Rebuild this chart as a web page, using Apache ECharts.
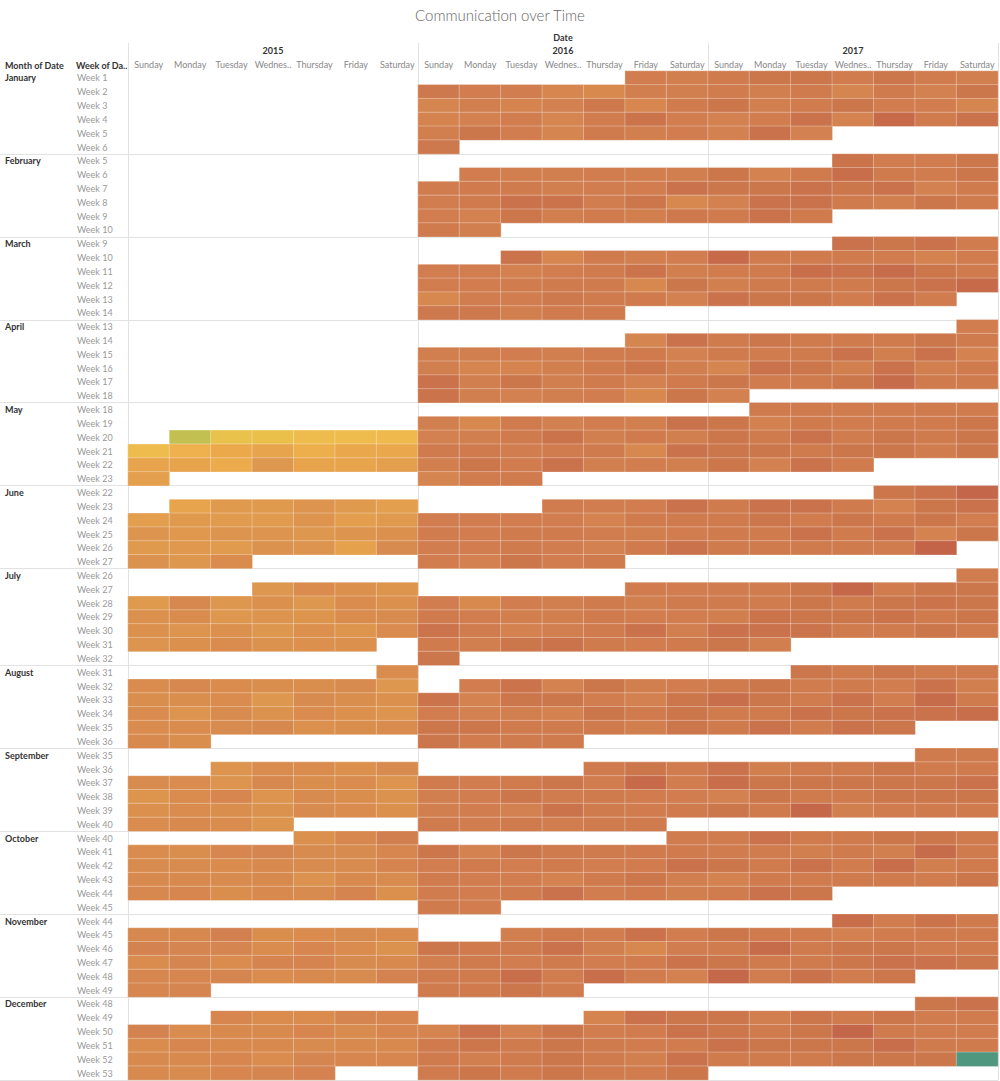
<!DOCTYPE html>
<html><head><meta charset="utf-8">
<script src="https://cdn.jsdelivr.net/npm/echarts@6/dist/echarts.min.js"></script>
<style>html,body{margin:0;padding:0;background:#fff}#c{width:1000px;height:1081px}</style>
</head><body><div id="c"></div>
<script>
const years = [2015, 2016, 2017];
const monthNames = ['January','February','March','April','May','June','July','August','September','October','November','December'];
const dayLabels = ['Sunday','Monday','Tuesday','Wednes..','Thursday','Friday','Saturday'];
const monthFirstWeek = [1,5,9,13,18,22,26,31,35,40,44,48];
const monthLastWeek  = [6,10,14,18,23,27,32,36,40,45,49,53];

// daily values (index = day of month - 1), null = no data
const v2015 = [
  [], [], [], [],
  [null,null,null,null,null,null,null,null,null,null,13,25,27,32,32,35,33,40,45,50,42,47,47,50,50,44,60,50,50,55,53],
  [50,58,58,62,58,55,55,58,57,57,62,55,58,62,59,62,62,60,62,64,58,59,57,63,62,52,67,63,60,66],
  [60,66,64,61,58,69,60,64,60,66,64,64,66,60,62,61,66,67,64,62,64,60,64,61,66,62,64,66,63,64,64],
  [66,66,69,66,65,65,67,60,65,65,66,60,67,65,64,66,62,67,63,66,64,62,66,66,67,69,64,65,66,68,65],
  [62,66,66,64,67,67,66,62,69,65,66,62,61,66,70,62,67,65,63,64,66,65,63,67,66,64,66,68,66,62],
  [64,69,76,66,65,70,71,67,67,70,67,67,66,68,67,67,72,68,68,67,68,63,68,67,69,70,65,68,67,72,64],
  [69,69,75,65,66,67,66,73,71,71,66,70,66,63,66,71,66,72,72,67,68,70,70,71,66,68,67,73,70,71],
  [70,66,66,71,70,73,66,68,68,70,67,70,66,70,68,68,67,68,68,68,68,70,66,71,70,70,68,67,70,71,73]
];
const v2016 = [
  [77,76,80,77,77,70,68,76,76,71,76,72,74,80,70,79,72,74,77,71,78,83,77,76,82,77,71,79,76,77,81],
  [77,76,76,77,76,76,78,79,79,76,77,77,84,77,79,84,83,77,82,69,77,74,82,76,79,76,80,79,76],
  [83,70,79,76,77,77,77,74,77,79,83,76,77,77,78,79,79,69,82,69,77,77,80,79,79,74,80,80,76,79,79],
  [71,84,76,76,77,76,78,79,74,76,71,72,76,79,82,76,84,76,82,76,79,74,79,83,76,74,76,77,69,82],
  [76,69,79,74,77,76,84,74,76,79,83,76,79,76,79,79,77,78,79,69,84,76,82,78,84,76,77,76,71,78,79],
  [78,77,77,84,77,77,77,77,73,79,79,78,77,79,79,77,76,77,77,77,79,77,74,79,84,77,74,82,77,79],
  [78,77,77,68,77,76,79,76,79,79,77,76,76,79,77,77,83,78,73,76,79,84,76,79,76,82,83,79,77,79,82],
  [77,83,73,82,76,77,83,73,82,82,77,74,82,77,74,76,73,82,79,82,82,82,79,79,79,76,82,82,78,79,79],
  [79,82,78,79,77,79,82,77,88,77,76,77,82,78,79,78,77,76,77,74,83,79,78,79,79,77,79,77,79,79],
  [78,82,73,82,79,79,79,79,77,79,77,79,77,78,84,79,77,77,73,79,82,76,78,77,79,84,77,79,76,79,77],
  [76,79,77,84,77,82,79,79,84,76,69,77,76,79,77,79,77,78,83,79,79,86,78,86,78,74,79,79,82,78],
  [72,84,82,72,84,74,82,77,78,84,79,82,79,82,79,78,78,79,76,79,82,79,76,84,79,82,79,82,79,78,82]
];
const v2017 = [
  [79,82,82,78,82,78,76,78,76,79,71,79,74,82,82,76,78,82,77,77,71,74,77,84,73,88,79,84,74,84,74],
  [83,78,78,82,82,73,79,86,79,78,82,82,82,84,82,84,74,79,74,84,84,79,76,82,79,79,84,79],
  [84,82,84,78,88,79,79,79,78,73,78,78,79,86,84,87,82,79,76,79,79,79,82,84,88,84,82,82,78,84,78],
  [77,79,82,79,79,79,82,79,79,78,79,84,76,84,73,71,84,82,76,84,76,79,82,78,79,82,87,79,79,74],
  [79,79,78,78,79,78,82,74,79,78,79,79,82,82,79,84,78,82,79,82,82,82,79,82,82,78,82,82,74,84,78],
  [82,84,90,79,84,84,79,73,82,84,79,82,78,82,79,82,77,79,79,84,79,84,73,82,79,79,79,79,78,91],
  [78,78,78,82,89,78,82,82,79,78,82,79,82,83,82,76,83,82,82,83,79,82,84,84,83,79,79,82,79,82,76],
  [82,79,82,79,79,79,82,78,79,77,84,76,86,82,78,84,77,87,79,79,79,84,82,84,84,86,79,84,78,84,82],
  [79,79,84,76,79,79,82,79,79,86,82,82,82,82,82,84,74,82,79,79,82,82,82,82,79,89,76,78,79,79],
  [78,84,79,79,82,82,79,78,78,76,79,76,87,79,82,79,84,78,86,76,79,73,79,78,79,79,78,82,78,84,82],
  [86,78,83,79,82,79,78,74,78,79,79,78,87,79,82,82,78,79,82,79,79,82,84,84,82,89,78,84,78,82],
  [82,84,82,76,82,79,82,78,78,82,79,82,90,79,78,78,84,82,82,82,86,79,79,79,79,79,82,82,82,1,null]
];
const yearValues = [v2015, v2016, v2017];

const colorStops = [[0,'#4e967e'],[4,'#529a7e'],[13,'#c3c052'],[25,'#e8c24b'],[35,'#f0b94d'],[45,'#eca94c'],[55,'#e39e4e'],[62,'#dc944e'],[66,'#d98c4e'],[70,'#d6864e'],[74,'#d38150'],[78,'#d07c4e'],[82,'#cc764c'],[86,'#c86e4a'],[90,'#c4664a'],[100,'#b9523f']];

function hex2rgb(h){return [1,3,5].map(i=>parseInt(h.substr(i,2),16));}
function gradient(){
  const out=[];
  for(let v=0;v<=100;v++){
    let k=0; while(k<colorStops.length-2 && v>colorStops[k+1][0]) k++;
    const [a,ca]=colorStops[k],[b,cb]=colorStops[k+1];
    const t=Math.min(1,Math.max(0,(v-a)/(b-a)));
    const A=hex2rgb(ca),B=hex2rgb(cb);
    out.push('rgb('+A.map((x,i)=>Math.round(x+(B[i]-x)*t)).join(',')+')');
  }
  return out;
}

const rowLabels=[], monthLabels=[], monthStartRow=[];
monthNames.forEach((mn,m)=>{
  monthStartRow[m]=rowLabels.length;
  for(let w=monthFirstWeek[m];w<=monthLastWeek[m];w++){
    rowLabels.push('Week '+w);
    monthLabels.push(w===monthFirstWeek[m]?mn:'');
  }
});
const sepFn = (idx)=> idx>0 && monthStartRow.indexOf(idx)>=0;

function build(year, vals){
  const out=[]; const jan1=Date.UTC(year,0,1); const jwd=new Date(jan1).getUTCDay();
  vals.forEach((arr,m)=>arr.forEach((v,i)=>{
    if(v==null) return;
    const t=Date.UTC(year,m,i+1); const doy=Math.round((t-jan1)/864e5);
    const wd=new Date(t).getUTCDay();
    const week=Math.floor((doy+jwd)/7)+1;
    out.push([wd, monthStartRow[m]+week-monthFirstWeek[m], v]);
  }));
  return out;
}

const F='Lato, "Open Sans", sans-serif';
const LINE='#e2e2e2';
const chart=echarts.init(document.getElementById('c'),null,{renderer:'svg'});
const xAxis=[], yAxis=[], series=[], grid=[];
years.forEach((y,i)=>{
  grid.push({left:128+290*i, top:71, width:290, height:1009});
  xAxis.push({type:'category', gridIndex:i, data:dayLabels, position:'top',
    axisLine:{show:false}, axisTick:{show:false}, splitLine:{show:false},
    axisLabel:{interval:0, margin:2, fontSize:9, color:'#888', fontFamily:F}});
});
years.forEach((y,i)=>{
  xAxis.push({type:'category', gridIndex:i, data:[String(y)], position:'top',
    axisLine:{show:false}, axisTick:{show:true, length:28, lineStyle:{color:LINE}}, splitLine:{show:false},
    axisLabel:{margin:16, fontSize:9, fontWeight:'bold', color:'#333', fontFamily:F}});
});
yAxis.push({type:'category', gridIndex:0, data:rowLabels, inverse:true, position:'left',
  axisLine:{show:true, lineStyle:{color:LINE}},
  axisTick:{show:true, length:128, interval:sepFn, lineStyle:{color:LINE}},
  splitLine:{show:true, interval:sepFn, lineStyle:{color:LINE}},
  axisLabel:{interval:0, align:'left', margin:51, fontSize:9, color:'#999', fontFamily:F}});
yAxis.push({type:'category', gridIndex:0, data:monthLabels, inverse:true, position:'left',
  axisLine:{show:false}, axisTick:{show:false}, splitLine:{show:false},
  axisLabel:{interval:0, align:'left', margin:123, fontSize:9, fontWeight:'bold', color:'#333', fontFamily:F}});
[1,2].forEach(i=>{
  yAxis.push({type:'category', gridIndex:i, data:rowLabels, inverse:true, position:'left',
    axisLine:{show:true, lineStyle:{color:LINE}}, axisTick:{show:false}, axisLabel:{show:false},
    splitLine:{show:true, interval:sepFn, lineStyle:{color:LINE}}});
});
yAxis.push({type:'category', gridIndex:2, data:rowLabels, inverse:true, position:'right',
  axisLine:{show:true, lineStyle:{color:LINE}}, axisTick:{show:false}, axisLabel:{show:false}, splitLine:{show:false}});
const yIdx=[0,2,3];
years.forEach((y,i)=>{
  series.push({type:'heatmap', xAxisIndex:i, yAxisIndex:yIdx[i], data:build(y, yearValues[i]),
    itemStyle:{borderColor:'rgba(255,255,255,0.3)', borderWidth:1}, emphasis:{disabled:true}, z:3});
});

chart.setOption({
  animation:false,
  backgroundColor:'#fff',
  title:{text:'Communication over Time', left:'center', top:2,
    textStyle:{fontSize:15, fontWeight:300, color:'#666', fontFamily:F}},
  grid, xAxis, yAxis, series,
  visualMap:{type:'continuous', show:false, min:0, max:100, seriesIndex:[0,1,2], inRange:{color:gradient()}},
  graphic:[
    {type:'text', x:563, y:37, style:{text:'Date', textAlign:'center', textVerticalAlign:'middle', font:'bold 9px '+F, fill:'#333'}},
    {type:'text', x:5, y:65, style:{text:'Month of Date', textAlign:'left', textVerticalAlign:'middle', font:'bold 9px '+F, fill:'#333'}},
    {type:'text', x:76, y:65, style:{text:'Week of Da..', textAlign:'left', textVerticalAlign:'middle', font:'bold 9px '+F, fill:'#333'}}
  ]
});
</script></body></html>
